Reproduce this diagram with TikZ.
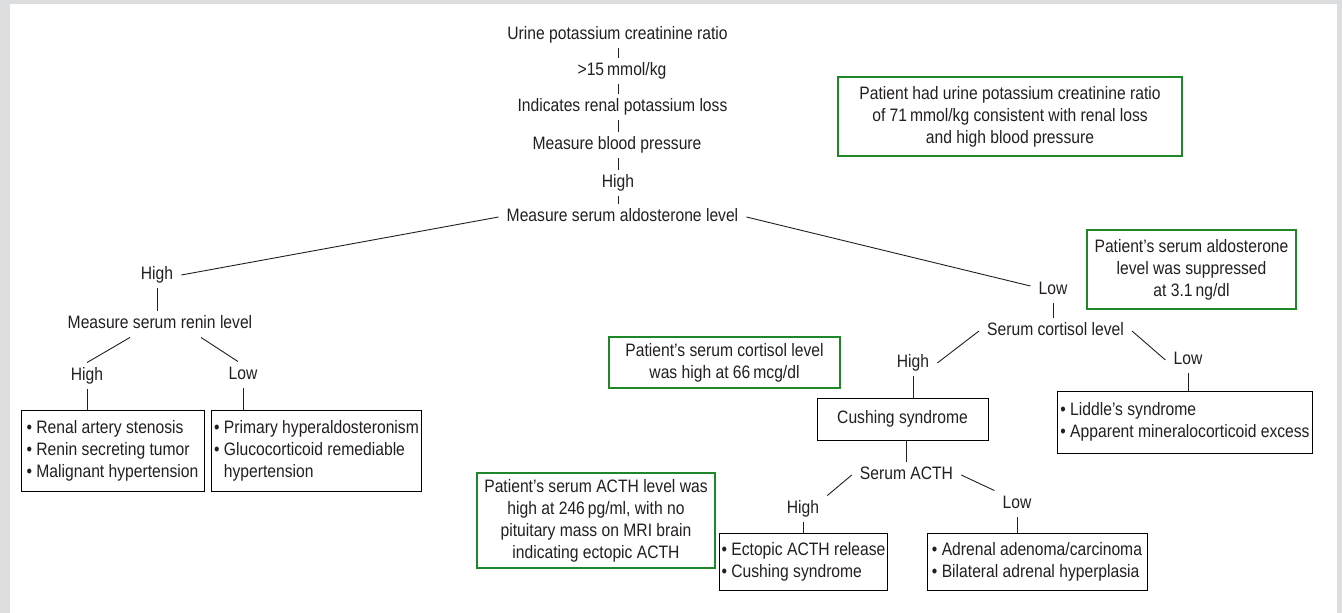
\documentclass[tikz,border=0pt]{standalone}
\usepackage{fontspec}
\setmainfont{Liberation Sans}[FakeStretch=0.87]
\usepackage{xcolor}
\usetikzlibrary{positioning}
\definecolor{inkgray}{RGB}{35,31,32}
\definecolor{notegreen}{RGB}{30,135,40}
\definecolor{framegray}{RGB}{220,221,223}
\tikzset{
  txt/.style={inner xsep=8pt, inner ysep=5pt, text height=13pt, text depth=3.5pt, align=center, text=inkgray},
  outbox/.style={draw=black, line width=0.9pt, inner xsep=2.5pt, inner ysep=4pt, align=left, text=inkgray},
  note/.style={draw=notegreen, line width=2.4pt, inner sep=4pt, align=center, text=inkgray},
  link/.style={draw=inkgray, line width=0.9pt}
}

\begin{document}
\begin{tikzpicture}[x=1pt, y=-1pt, font=\fontsize{18}{22}\selectfont]
  \fill[framegray] (0,0) rectangle (1342,613);
  \fill[white] (10,4) rectangle (1337,613);
  \useasboundingbox (0,0) rectangle (1342,613);
  \coordinate (spine) at (618,0);

  \node[txt] (urine) at (617.5,35) {Urine potassium creatinine ratio};
  \node[txt] (ratio) at (622,71) {>15\,mmol/kg};
  \node[txt] (renalloss) at (622.5,107) {Indicates renal potassium loss};
  \node[txt] (bp) at (617,145) {Measure blood pressure};
  \node[txt] (bphigh) at (618,183) {High};
  \node[txt] (aldo) at (622.5,217) {Measure serum aldosterone level};

  \node[txt] (aldohigh) at (157,275) {High};
  \node[txt] (renin) at (160,324) {Measure serum renin level};
  \node[txt] (reninhigh) at (87,376) {High};
  \node[txt] (reninlow) at (243,375) {Low};
  \node[outbox, minimum width=183pt, minimum height=81pt] (highreninbox) at (112.5,450.5)
    {• Renal artery stenosis\\• Renin secreting tumor\\• Malignant hypertension};
  \node[outbox, minimum width=207pt, minimum height=81pt] (lowreninbox) at (316.5,450.5)
    {• Primary hyperaldosteronism\\• Glucocorticoid remediable\\\hphantom{•\ }hypertension};

  \node[txt] (aldolow) at (1053,290) {Low};
  \node[txt] (cortisol) at (1055.5,331) {Serum cortisol level};
  \node[txt] (cortisolhigh) at (913,363) {High};
  \node[txt] (cortisollow) at (1188,360) {Low};
  \node[outbox, align=center, minimum width=171pt, minimum height=42pt] (cushing) at (902.5,419) {Cushing syndrome};
  \node[outbox, minimum width=254pt, minimum height=62pt] (lowcortisolbox) at (1185,422)
    {• Liddle's syndrome\\• Apparent mineralocorticoid excess};
  \node[txt] (acth) at (906.5,475) {Serum ACTH};
  \node[txt] (acthhigh) at (803,509) {High};
  \node[txt] (acthlow) at (1017,504) {Low};
  \node[outbox, minimum width=163pt, minimum height=57pt] (highacthbox) at (803.5,561.5)
    {• Ectopic ACTH release\\• Cushing syndrome};
  \node[outbox, minimum width=220pt, minimum height=57pt] (lowacthbox) at (1037,561.5)
    {• Adrenal adenoma/carcinoma\\• Bilateral adrenal hyperplasia};

  \node[note, minimum width=344pt, minimum height=79pt] (ratiocase) at (1010,116.5)
    {Patient had urine potassium creatinine ratio\\of 71\,mmol/kg consistent with renal loss\\and high blood pressure};
  \node[note, minimum width=209pt, minimum height=79pt] (aldocase) at (1191.5,269.5)
    {Patient's serum aldosterone\\level was suppressed\\at 3.1\,ng/dl};
  \node[note, minimum width=231pt, minimum height=51pt] (cortisolcase) at (724.5,362.5)
    {Patient's serum cortisol level\\was high at 66\,mcg/dl};
  \node[note, minimum width=238pt, minimum height=95pt] (acthcase) at (596,520.5)
    {Patient's serum ACTH level was\\high at 246\,pg/ml, with no\\pituitary mass on MRI brain\\indicating ectopic ACTH};

  \draw[link] (urine.south -| spine) -- (ratio.north -| spine);
  \draw[link] (ratio.south -| spine) -- (renalloss.north -| spine);
  \draw[link] (renalloss.south -| spine) -- (bp.north -| spine);
  \draw[link] (bp.south -| spine) -- (bphigh.north -| spine);
  \draw[link] (bphigh.south -| spine) -- (aldo.north -| spine);
  \draw[link] (aldo.west) -- (aldohigh.east);
  \draw[link] (aldo.east) -- ([yshift=4pt]aldolow.west);

  \draw[link] (aldohigh.south) -- (aldohigh.south |- renin.north);
  \draw[link] ([xshift=-30pt]renin.south) -- (reninhigh.north);
  \draw[link] ([xshift=41pt]renin.south) -- ([xshift=-5pt]reninlow.north);
  \draw[link] (reninhigh.south) -- (reninhigh.south |- highreninbox.north);
  \draw[link] (reninlow.south) -- (reninlow.south |- lowreninbox.north);

  \draw[link] (aldolow.south) -- (aldolow.south |- cortisol.north);
  \draw[link] (cortisol.west) -- (cortisolhigh.east);
  \draw[link] (cortisol.east) -- (cortisollow.west);
  \draw[link] (cortisolhigh.south) -- (cortisolhigh.south |- cushing.north);
  \draw[link] (cortisollow.south) -- (cortisollow.south |- lowcortisolbox.north);
  \draw[link] (cushing.south -| acth.north) -- (acth.north);
  \draw[link] (acth.west) -- (acthhigh.north east);
  \draw[link] (acth.east) -- (acthlow.north west);
  \draw[link] (acthhigh.south) -- (acthhigh.south |- highacthbox.north);
  \draw[link] (acthlow.south) -- (acthlow.south |- lowacthbox.north);
\end{tikzpicture}
\end{document}
